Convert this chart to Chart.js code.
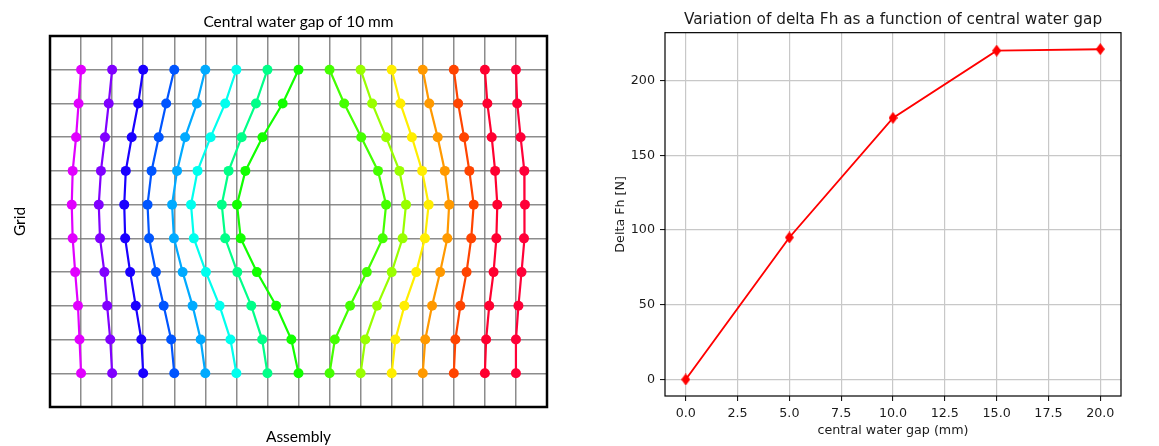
<!DOCTYPE html>
<html>
<head>
<meta charset="utf-8">
<script src="https://cdn.jsdelivr.net/npm/chart.js@4.4.1/dist/chart.umd.min.js"></script>
<style>
  html, body { margin: 0; padding: 0; background: #fff; }
  #left { position: absolute; left: 0; top: 0; }
  #right { position: absolute; left: 580px; top: 0; }
</style>
</head>
<body>
<canvas id="left" width="580" height="446"></canvas>
<canvas id="right" width="579" height="446"></canvas>
<script>
// ---- left plot: deformed grid, one polyline per column (top row first)
const gridRows = [9, 8, 7, 6, 5, 4, 3, 2, 1, 0];
const gridCols = [0, 1, 2, 3, 4, 5, 6, 7, 8, 9, 10, 11, 12, 13, 14];
const columnX = [
    [0, -0.08, -0.16, -0.27, -0.30, -0.27, -0.19, -0.10, -0.05, 0],
    [1, 0.89, 0.77, 0.64, 0.57, 0.61, 0.75, 0.84, 0.94, 1],
    [2, 1.84, 1.63, 1.44, 1.39, 1.42, 1.58, 1.76, 1.94, 2],
    [3, 2.74, 2.50, 2.27, 2.14, 2.19, 2.41, 2.66, 2.90, 3],
    [4, 3.73, 3.35, 3.09, 2.93, 2.99, 3.27, 3.59, 3.85, 4],
    [5, 4.64, 4.17, 3.75, 3.54, 3.63, 4.02, 4.46, 4.81, 5],
    [6, 5.63, 5.17, 4.75, 4.53, 4.64, 5.03, 5.48, 5.83, 6],
    [7, 6.49, 5.84, 5.29, 5.02, 5.14, 5.66, 6.28, 6.77, 7],
    [8, 8.47, 9.02, 9.56, 9.82, 9.71, 9.20, 8.66, 8.17, 8],
    [9, 9.37, 9.82, 10.25, 10.46, 10.35, 10.00, 9.53, 9.15, 9],
    [10, 10.28, 10.65, 10.98, 11.19, 11.07, 10.79, 10.41, 10.12, 10],
    [11, 11.21, 11.48, 11.71, 11.85, 11.79, 11.56, 11.30, 11.08, 11],
    [12, 12.14, 12.33, 12.50, 12.64, 12.56, 12.41, 12.21, 12.05, 12],
    [13, 13.08, 13.22, 13.33, 13.40, 13.37, 13.28, 13.14, 13.04, 13],
    [14, 14.04, 14.15, 14.27, 14.29, 14.26, 14.18, 14.08, 14.00, 14]
];
const columnColors = ['#e100ff', '#8000ff', '#1a00ff', '#0055ff', '#00aaff', '#00ffee', '#00ff88',
    '#11ff00', '#44ff00', '#99ff00', '#ffee00', '#ff9900', '#ff4400', '#ff0030', '#ff0038'];

// ---- right plot
const gapValues = [0, 5, 10, 15, 20];
const deltaFh = [0, 95, 175, 220, 221];
const gapTicks = [0, 2.5, 5, 7.5, 10, 12.5, 15, 17.5, 20];
const fhTicks = [0, 50, 100, 150, 200];

function frame(width) {
    return {
        id: 'frame',
        afterDatasetsDraw(chart) {
            const a = chart.chartArea, ctx = chart.ctx;
            ctx.save();
            ctx.strokeStyle = '#000';
            ctx.lineWidth = width;
            ctx.strokeRect(a.left, a.top, a.right - a.left, a.bottom - a.top);
            ctx.restore();
        }
    };
}

const leftFont = 'Lato, "Open Sans", sans-serif';
const leftGrid = {color: 'rgba(120,120,120,0.85)', lineWidth: 1.5, drawTicks: false};

new Chart(document.getElementById('left'), {
    type: 'scatter',
    data: {
        datasets: columnX.map((xs, i) => ({
            data: xs.map((x, j) => ({x: x, y: gridRows[j]})),
            showLine: true,
            borderColor: columnColors[i],
            backgroundColor: columnColors[i],
            borderWidth: 2.2,
            pointRadius: 5,
            pointBorderWidth: 0
        }))
    },
    options: {
        responsive: false,
        animation: false,
        layout: {padding: {left: 0, right: 33, top: 0, bottom: 0}},
        plugins: {
            legend: {display: false},
            tooltip: {enabled: false},
            title: {
                display: true, fullSize: false,
                text: 'Central water gap of 10 mm',
                color: '#000', font: {family: leftFont, size: 15.5, weight: 'normal'},
                padding: {top: 13, bottom: 4.4}
            }
        },
        scales: {
            x: {
                type: 'linear', min: -1, max: 15,
                afterBuildTicks: s => { s.ticks = gridCols.map(v => ({value: v})); },
                afterFit: s => { s.height = 39; },
                ticks: {display: false},
                grid: leftGrid,
                border: {display: false},
                title: {display: true, text: 'Assembly', color: '#000',
                    font: {family: leftFont, size: 15.5}, padding: {top: 0, bottom: 0}}
            },
            y: {
                type: 'linear', min: -1, max: 10,
                afterBuildTicks: s => { s.ticks = gridRows.map(v => ({value: v})); },
                afterFit: s => { s.width = 50; },
                ticks: {display: false},
                grid: leftGrid,
                border: {display: false},
                title: {display: true, text: 'Grid', color: '#000',
                    font: {family: leftFont, size: 15.5}, padding: {top: 11, bottom: 0}}
            }
        }
    },
    plugins: [frame(2.5)]
});

// thin diamond marker
const diamond = document.createElement('canvas');
diamond.width = 9; diamond.height = 12;
const dctx = diamond.getContext('2d');
dctx.fillStyle = '#ff0000';
dctx.beginPath();
dctx.moveTo(4.5, 0); dctx.lineTo(9, 6); dctx.lineTo(4.5, 12); dctx.lineTo(0, 6);
dctx.closePath(); dctx.fill();

const rightFont = '"DejaVu Sans", sans-serif';
const rightGrid = {color: '#c8c8c8', lineWidth: 1.2, tickLength: 5, tickColor: '#000', tickWidth: 1};

new Chart(document.getElementById('right'), {
    type: 'scatter',
    data: {
        datasets: [{
            data: gapValues.map((g, i) => ({x: g, y: deltaFh[i]})),
            showLine: true,
            borderColor: '#ff0000',
            borderWidth: 1.9,
            pointStyle: diamond
        }]
    },
    options: {
        responsive: false,
        animation: false,
        layout: {padding: {left: 0, right: 38, top: 0, bottom: 0}},
        plugins: {
            legend: {display: false},
            tooltip: {enabled: false},
            title: {
                display: true, fullSize: false,
                text: 'Variation of delta Fh as a function of central water gap',
                color: '#1a1a1a', font: {family: rightFont, size: 15.3, weight: 'normal'},
                padding: {top: 10.4, bottom: 3.9}
            }
        },
        scales: {
            x: {
                type: 'linear', min: -1, max: 21,
                afterBuildTicks: s => { s.ticks = gapTicks.map(v => ({value: v})); },
                afterFit: s => { s.height = 50; },
                ticks: {color: '#1a1a1a', font: {family: rightFont, size: 12.7}, padding: 5,
                    maxRotation: 0, callback: v => v.toFixed(1)},
                grid: rightGrid,
                border: {display: false},
                title: {display: true, text: 'central water gap (mm)', color: '#1a1a1a',
                    font: {family: rightFont, size: 12.7}, padding: {top: 0, bottom: 8}}
            },
            y: {
                type: 'linear', min: -11.05, max: 232.05,
                afterBuildTicks: s => { s.ticks = fhTicks.map(v => ({value: v})); },
                afterFit: s => { s.width = 85; },
                ticks: {color: '#1a1a1a', font: {family: rightFont, size: 12.7}, padding: 5},
                grid: rightGrid,
                border: {display: false},
                title: {display: true, text: 'Delta Fh [N]', color: '#1a1a1a',
                    font: {family: rightFont, size: 12.7}, padding: {top: 33, bottom: 0}}
            }
        }
    },
    plugins: [frame(1.2)]
});
</script>
</body>
</html>
